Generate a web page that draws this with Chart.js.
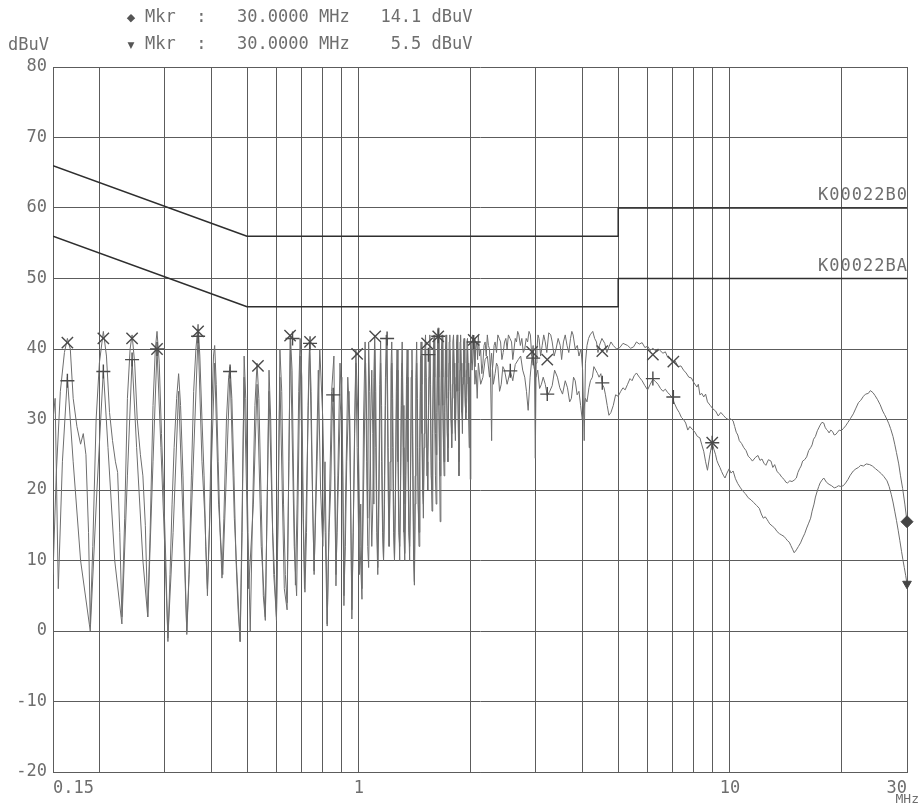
<!DOCTYPE html>
<html><head><meta charset="utf-8">
<script src="https://cdn.jsdelivr.net/npm/chart.js@4.4.0/dist/chart.umd.min.js"></script>
<style>html,body{margin:0;padding:0;background:#fff}canvas{display:block}</style>
</head><body>
<canvas id="c" width="921" height="807"></canvas>
<script>
// ---- data (frequency in MHz, level in dBuV) ----
const peakTrace = [[0.150,8],[0.153,22],[0.157,34],[0.161,39.5],[0.164,41.5],[0.167,40],[0.170,33],[0.174,29],[0.178,26.5],[0.181,28],[0.184,25],[0.187,14],[0.189,1],[0.192,12],[0.196,30],[0.200,38],[0.205,42.5],[0.209,39],[0.213,31],[0.217,27],[0.221,24],[0.224,22.5],[0.227,14],[0.230,2],[0.234,16],[0.238,33],[0.242,40],[0.245,42],[0.249,38],[0.253,30],[0.258,25],[0.262,22],[0.266,15],[0.270,2],[0.274,14],[0.279,32],[0.283,40],[0.286,42.5],[0.290,38],[0.294,28],[0.298,20],[0.302,10],[0.306,-1.5],[0.310,8],[0.314,18],[0.318,26],[0.323,33],[0.327,36.5],[0.331,32],[0.336,22],[0.340,10],[0.344,-0.5],[0.349,8],[0.354,22],[0.359,34],[0.364,40],[0.369,43.5],[0.373,39],[0.378,30],[0.383,22],[0.387,12],[0.391,6],[0.396,15],[0.401,30],[0.406,39],[0.409,40.5],[0.413,35],[0.418,24],[0.423,14],[0.428,7.5],[0.433,16],[0.440,30],[0.446,36],[0.450,37.5],[0.455,33],[0.461,22],[0.467,10],[0.473,3],[0.479,-1.5],[0.485,14],[0.491,39],[0.496,33],[0.503,14],[0.510,0],[0.517,16],[0.525,32],[0.532,38],[0.538,33],[0.546,18],[0.553,5],[0.560,1.5],[0.567,20],[0.573,37],[0.579,30],[0.586,14],[0.593,8],[0.600,1.5],[0.607,18],[0.613,40],[0.620,34],[0.627,18],[0.634,8],[0.641,4],[0.648,24],[0.654,42],[0.661,37],[0.668,20],[0.675,6.5],[0.682,18],[0.689,34],[0.695,41.5],[0.702,36],[0.709,16],[0.716,5.5],[0.723,14],[0.730,32],[0.737,41],[0.744,34],[0.751,18],[0.758,8.5],[0.772,24],[0.785,40],[0.800,30],[0.812,14],[0.822,0.7],[0.832,16],[0.845,34],[0.857,39],[0.868,6.4],[0.878,22],[0.890,38],[0.902,30],[0.912,3.6],[0.922,20],[0.934,36],[0.946,30],[0.958,1.7],[0.970,20],[0.982,40],[0.995,30],[1.008,12],[1.020,4.5],[1.030,30],[1.040,41],[1.050,30],[1.057,16],[1.063,41],[1.070,34],[1.077,20],[1.084,12],[1.091,18],[1.098,36],[1.104,42],[1.111,34],[1.118,18],[1.125,9],[1.132,20],[1.139,35],[1.145,41],[1.152,32],[1.159,16],[1.166,10],[1.173,22],[1.180,36],[1.186,42],[1.193,35],[1.200,20],[1.207,12],[1.214,24],[1.221,37],[1.227,41],[1.234,33],[1.241,18],[1.248,10],[1.255,20],[1.262,34],[1.268,40],[1.275,30],[1.282,16],[1.289,10],[1.296,22],[1.303,36],[1.309,41],[1.316,32],[1.323,18],[1.330,11],[1.337,22],[1.344,35],[1.350,40],[1.357,30],[1.364,15],[1.371,10],[1.378,22],[1.384,36],[1.391,40],[1.398,28],[1.405,13],[1.412,7],[1.419,22],[1.425,36],[1.432,41],[1.439,33],[1.446,18],[1.453,12],[1.460,26],[1.466,38],[1.472,41],[1.479,35],[1.486,22],[1.493,16],[1.500,28],[1.507,40],[1.513,42],[1.520,36],[1.527,24],[1.534,20],[1.541,32],[1.548,40],[1.554,42],[1.561,35],[1.568,22],[1.575,17],[1.582,30],[1.589,40],[1.595,42],[1.602,36],[1.609,28],[1.616,25],[1.623,31],[1.630,40],[1.636,43],[1.643,36],[1.650,24],[1.657,15.5],[1.664,30],[1.670,40],[1.677,42],[1.684,36],[1.691,26],[1.698,22],[1.705,32],[1.712,40],[1.718,42],[1.725,36],[1.732,28],[1.739,24],[1.746,34],[1.752,41],[1.759,42],[1.766,37],[1.773,30],[1.780,26],[1.787,35],[1.793,41],[1.800,42],[1.807,38],[1.814,31],[1.821,27],[1.828,36],[1.834,41],[1.841,42],[1.848,38],[1.855,30],[1.862,22],[1.869,34],[1.875,41],[1.881,42],[1.888,38],[1.895,32],[1.902,28],[1.909,36],[1.916,41],[1.922,41.5],[1.929,38],[1.936,33],[1.943,30],[1.950,37],[1.956,41],[1.963,41.5],[1.970,38],[1.977,30],[1.984,26],[1.991,36],[1.997,21.5],[2.004,41],[2.015,38],[2.025,42],[2.035,40],[2.045,41.5],[2.055,37.5],[2.065,40],[2.08,41],[2.09,38.5],[2.10,42],[2.115,39],[2.13,40],[2.145,36.5],[2.16,38],[2.175,40.5],[2.19,41],[2.205,39],[2.22,42],[2.235,40.5],[2.25,40],[2.265,36],[2.28,27],[2.29,37],[2.30,38],[2.315,40.5],[2.33,41],[2.35,39.5],[2.37,42],[2.39,41.5],[2.41,41],[2.43,38.5],[2.45,39.5],[2.47,41],[2.49,41.5],[2.51,40],[2.53,42],[2.555,41.5],[2.58,41],[2.60,38.5],[2.62,40],[2.64,41.5],[2.66,41],[2.68,42.5],[2.70,42],[2.725,40.5],[2.75,41.5],[2.775,39.5],[2.80,40],[2.825,41.5],[2.85,41],[2.875,42.5],[2.90,42],[2.925,39],[2.95,40.5],[2.975,37],[2.99,24.5],[3.005,38],[3.02,40],[3.04,42],[3.06,41.5],[3.09,39],[3.12,40.5],[3.15,42],[3.18,41],[3.21,39.5],[3.25,42.3],[3.29,42],[3.32,41],[3.36,39],[3.40,40],[3.445,41.5],[3.49,40.5],[3.52,38.5],[3.56,41],[3.60,42],[3.64,40.5],[3.68,39.5],[3.72,41.5],[3.75,42.5],[3.78,42],[3.83,40],[3.88,40.5],[3.92,39],[3.97,40],[4.01,37],[4.05,27],[4.08,38],[4.12,40.5],[4.16,41.5],[4.20,42],[4.27,42.5],[4.32,41.5],[4.37,41],[4.41,39.5],[4.45,40.5],[4.52,41.5],[4.60,40.8],[4.66,39.5],[4.72,40.3],[4.78,41],[4.85,40.5],[4.95,40],[5.05,40.2],[5.15,40.8],[5.3,40.5],[5.4,40.1],[5.5,40.3],[5.6,41],[5.7,40.7],[5.8,40.9],[5.9,40.2],[6.0,40.4],[6.1,39.8],[6.2,40.1],[6.35,39.6],[6.45,39.9],[6.6,39.4],[6.7,39.6],[6.8,38.8],[6.9,38.6],[7.0,38.1],[7.12,38.3],[7.25,37.5],[7.38,37.6],[7.5,37],[7.62,36.6],[7.75,36],[7.87,35.9],[8.0,35.2],[8.15,34.6],[8.22,35],[8.3,33.5],[8.4,33.7],[8.5,33.2],[8.6,33.6],[8.7,32.5],[8.85,32],[9.0,31.5],[9.15,31.2],[9.3,30.5],[9.45,31],[9.6,30.6],[9.75,30.2],[9.9,30],[10.05,30.1],[10.2,29.8],[10.3,29],[10.4,28.2],[10.5,27.8],[10.6,27],[10.75,26.6],[10.9,26],[11.05,25.6],[11.2,24.8],[11.35,24.5],[11.5,24.1],[11.7,24.6],[11.9,24.9],[12.05,24.2],[12.2,24.4],[12.35,23.8],[12.5,23.5],[12.7,24.3],[12.9,24.1],[13.05,23.2],[13.2,23.6],[13.4,22.6],[13.6,22.3],[13.8,21.8],[14.0,21.5],[14.15,21.1],[14.3,21],[14.5,21.3],[14.7,21.2],[14.9,21.4],[15.1,21.7],[15.25,22.5],[15.4,23],[15.55,23.4],[15.7,24.1],[15.9,24.3],[16.1,24.7],[16.3,25.6],[16.5,26],[16.65,26.4],[16.8,27.2],[17.0,27.6],[17.2,28.4],[17.35,28.8],[17.5,29.2],[17.7,29.6],[17.9,29.5],[18.05,28.9],[18.2,28.6],[18.35,28.4],[18.5,28.1],[18.7,28.5],[18.9,28.3],[19.1,27.8],[19.3,27.9],[19.5,28.2],[19.7,28.5],[19.95,28.4],[20.2,28.7],[20.5,29.1],[20.8,29.6],[21.1,30.1],[21.5,30.8],[21.8,31.5],[22.2,32.4],[22.5,32.7],[22.9,33.3],[23.2,33.6],[23.6,33.7],[23.9,34.1],[24.3,33.8],[24.6,33.4],[25.0,32.8],[25.4,32.1],[25.8,31.2],[26.1,30.7],[26.5,30],[26.8,29.4],[27.1,28.7],[27.5,27.6],[27.8,26.5],[28.1,25.3],[28.5,23.7],[28.8,22.1],[29.2,20.2],[29.6,18],[30.0,15.5]];

const avgTrace = [[0.150,30],[0.152,33],[0.155,6],[0.159,24],[0.164,36],[0.170,24],[0.178,10],[0.189,0],[0.197,20],[0.205,37],[0.211,26],[0.220,10],[0.230,1],[0.238,22],[0.245,38.6],[0.252,26],[0.262,10],[0.270,2],[0.279,24],[0.286,40],[0.293,26],[0.300,12],[0.306,-1],[0.316,14],[0.327,34],[0.336,16],[0.344,0],[0.356,20],[0.369,42],[0.378,24],[0.385,16],[0.391,5],[0.400,22],[0.409,38],[0.419,18],[0.430,8],[0.441,24],[0.450,37],[0.462,16],[0.479,-1.5],[0.491,36],[0.505,6],[0.520,18],[0.532,35],[0.546,12],[0.560,2],[0.573,34],[0.590,8],[0.600,2],[0.613,36],[0.630,6],[0.641,3],[0.654,41.5],[0.670,12],[0.680,5],[0.695,39],[0.714,6],[0.737,40.5],[0.758,8],[0.778,37],[0.789,20],[0.800,12],[0.811,24],[0.822,1],[0.831,14],[0.840,20],[0.847,30],[0.853,33.6],[0.860,22],[0.868,8],[0.874,14],[0.880,20],[0.890,30],[0.900,36],[0.906,22],[0.912,5],[0.920,12],[0.928,24],[0.941,34],[0.950,20],[0.958,3],[0.966,14],[0.974,28],[0.982,38],[0.990,26],[1.003,8],[1.012,18],[1.020,6],[1.030,20],[1.037,30],[1.043,38],[1.050,24],[1.057,12],[1.063,9],[1.070,20],[1.077,30],[1.084,37],[1.091,28],[1.098,18],[1.104,40],[1.111,26],[1.118,14],[1.125,8],[1.132,16],[1.139,30],[1.145,38],[1.152,24],[1.159,14],[1.166,10],[1.173,18],[1.180,32],[1.186,38],[1.192,41.5],[1.200,26],[1.207,12],[1.214,20],[1.221,30],[1.227,38],[1.234,26],[1.241,14],[1.248,10],[1.255,18],[1.262,30],[1.268,37],[1.275,24],[1.282,14],[1.289,12],[1.296,20],[1.303,32],[1.309,38],[1.316,26],[1.323,14],[1.330,10],[1.337,18],[1.344,30],[1.350,36],[1.357,24],[1.364,14],[1.371,12],[1.378,20],[1.384,30],[1.391,37],[1.398,22],[1.405,10],[1.412,6.5],[1.419,18],[1.425,30],[1.432,38],[1.439,26],[1.446,18],[1.453,14],[1.460,24],[1.466,34],[1.472,39],[1.479,28],[1.486,20],[1.493,18],[1.500,26],[1.507,36],[1.513,40],[1.520,30],[1.527,22],[1.534,22],[1.541,30],[1.548,36],[1.554,39.2],[1.561,30],[1.568,22],[1.575,20],[1.582,28],[1.589,36],[1.595,40],[1.602,30],[1.609,22],[1.616,18],[1.623,28],[1.630,38],[1.636,42],[1.643,32],[1.650,26],[1.657,22],[1.664,30],[1.670,37],[1.677,40],[1.684,32],[1.691,27],[1.698,24],[1.705,31],[1.712,37],[1.718,40],[1.725,33],[1.732,28],[1.739,26],[1.746,32],[1.752,38],[1.759,40],[1.766,34],[1.773,30],[1.780,28],[1.787,33],[1.793,38],[1.800,40],[1.807,35],[1.814,30],[1.821,28],[1.828,34],[1.834,38],[1.841,40],[1.848,34],[1.855,28],[1.862,24],[1.869,32],[1.875,37],[1.881,40],[1.888,35],[1.895,31],[1.902,30],[1.909,35],[1.916,38],[1.922,40],[1.929,36],[1.936,32],[1.943,31],[1.950,35],[1.956,38],[1.963,40],[1.970,35],[1.977,31],[1.984,30],[1.991,35],[2.004,40],[2.02,37],[2.04,41],[2.055,35],[2.07,37],[2.085,33],[2.10,38],[2.13,35],[2.16,36],[2.19,38.5],[2.22,39],[2.25,36],[2.28,39.4],[2.305,35],[2.33,36.5],[2.35,38],[2.37,37.5],[2.395,34],[2.42,35],[2.445,37.5],[2.47,37],[2.51,35],[2.56,36.9],[2.60,35.5],[2.64,37.8],[2.69,38.5],[2.73,39],[2.765,37],[2.80,36],[2.83,34],[2.86,31.3],[2.895,36],[2.93,39],[2.965,37.5],[3.00,36],[3.035,37],[3.07,34.4],[3.105,35],[3.14,36],[3.18,35],[3.22,33.4],[3.27,34],[3.32,34.8],[3.37,37],[3.43,36],[3.48,34.5],[3.54,33.6],[3.60,35.5],[3.65,34.5],[3.70,32.5],[3.74,33],[3.79,36],[3.83,35.5],[3.875,33.5],[3.92,34],[3.96,32],[4.00,30],[4.04,31.5],[4.08,33],[4.12,32.5],[4.17,34.5],[4.21,35.5],[4.26,36],[4.30,37.5],[4.35,37],[4.40,36.5],[4.44,36],[4.49,36.5],[4.53,35],[4.58,34.5],[4.62,33.5],[4.67,32],[4.72,30.6],[4.78,31],[4.85,32],[4.92,33.5],[5.0,33.3],[5.08,34],[5.15,34.5],[5.22,34.2],[5.3,35],[5.38,35.8],[5.45,35.5],[5.52,36.2],[5.6,36.6],[5.7,36],[5.8,35.5],[5.9,34.8],[6.0,34.2],[6.1,35],[6.2,35.7],[6.3,35.4],[6.4,35],[6.5,34.4],[6.6,34],[6.7,34.3],[6.8,33.8],[6.9,33.5],[7.0,33],[7.1,32.2],[7.2,31.5],[7.3,31],[7.4,30.3],[7.5,30],[7.6,29.5],[7.7,28.5],[7.8,29],[7.92,28.6],[8.05,28.2],[8.17,27.6],[8.3,27.4],[8.4,26.4],[8.5,25.5],[8.6,24],[8.7,22.8],[8.83,25],[8.96,26.7],[9.05,25.8],[9.15,25],[9.22,24.2],[9.3,23.7],[9.4,23.2],[9.5,22.6],[9.6,22.1],[9.7,21.7],[9.82,22.4],[9.95,23],[10.07,22.4],[10.2,22.7],[10.35,21.6],[10.5,20.9],[10.68,20.3],[10.85,19.8],[11.0,19.5],[11.2,18.9],[11.4,18.6],[11.6,18.2],[11.8,17.8],[12.0,17.4],[12.15,16.6],[12.3,16],[12.45,16.2],[12.6,15.8],[12.7,15.5],[12.8,15.2],[13.0,14.9],[13.2,14.6],[13.4,14.1],[13.6,13.8],[13.8,13.6],[14.0,13.4],[14.15,13.1],[14.3,12.8],[14.45,12.6],[14.6,12.1],[14.75,11.6],[14.9,11.1],[15.1,11.5],[15.3,12],[15.5,12.5],[15.7,13.2],[15.9,13.8],[16.1,14.6],[16.3,15.3],[16.5,16],[16.65,17],[16.85,18],[17.0,19],[17.2,19.9],[17.35,20.5],[17.5,21],[17.7,21.4],[17.9,21.7],[18.2,21.1],[18.5,20.8],[18.8,20.6],[19.1,20.3],[19.35,20.4],[19.6,20.6],[19.9,20.5],[20.2,20.6],[20.5,21],[20.8,21.5],[21.1,22.1],[21.5,22.7],[21.85,23],[22.2,23.2],[22.5,23.5],[22.9,23.4],[23.3,23.7],[23.8,23.6],[24.2,23.4],[24.7,23],[25.1,22.7],[25.6,22.3],[26.0,21.9],[26.5,21.3],[26.85,20.5],[27.2,19.4],[27.5,18.3],[27.8,17],[28.1,15.7],[28.4,14.3],[28.7,12.8],[29.0,11.3],[29.25,10.1],[29.5,9],[29.75,7.9],[30.0,6.7]];

const qpLimitFreq  = [0.15, 0.5, 5, 5, 30];
const qpLimitLevel = [66, 56, 56, 60, 60];
const avLimitFreq  = [0.15, 0.5, 5, 5, 30];
const avLimitLevel = [56, 46, 46, 50, 50];
const limitNames = ['K00022B0', 'K00022BA'];
const limitNameLevels = [60, 50];

const qpMarkers = [[0.164,40.9],[0.205,41.5],[0.245,41.5],[0.286,40],[0.369,42.5],[0.535,37.6],[0.653,41.9],[0.739,41],[0.99,39.3],[1.107,41.8],[1.528,40.8],[1.637,41.8],[2.04,41.3],[2.93,39.6],[3.22,38.5],[4.53,39.7],[6.2,39.2],[7.04,38.2],[8.96,26.7]];
const avMarkers = [[0.164,35.5],[0.205,36.8],[0.245,38.5],[0.286,40],[0.369,41.8],[0.45,36.8],[0.663,41.5],[0.739,40.8],[0.853,33.5],[1.192,41.5],[1.54,39.2],[1.637,41.8],[2.04,41],[2.56,36.9],[2.95,38.7],[3.22,33.6],[4.53,35.2],[6.2,35.8],[7.04,33.2],[8.96,26.7]];

const endMarkFreq = 30;
const headerSymbols = ['\u25C6', '\u25BC'];
const headerTexts = ['Mkr  :   30.0000 MHz   14.1 dBuV', 'Mkr  :   30.0000 MHz    5.5 dBuV'];

const xGridValues = [0.15,0.2,0.3,0.4,0.5,0.6,0.7,0.8,0.9,1,2,3,4,5,6,7,8,9,10,20,30];
const xLabelValues = [0.15, 1, 10, 30];
const xLabelTexts = ['0.15', '1', '10', '30'];
const yMin = -20, yMax = 80, yStep = 10;
const yUnit = 'dBuV', xUnit = 'MHz';

// ---- build chart ----
const toXY = arr => arr.map(p => ({x: p[0], y: p[1]}));
const zipXY = (xs, ys) => xs.map((v, i) => ({x: v, y: ys[i]}));
const MONO = '"DejaVu Sans Mono", "Liberation Mono", monospace';
const TXT = '#6e6e6e';
const GRID = '#5c5c5c';

const textPlugin = {
  id: 'texts',
  afterDraw(chart) {
    const {ctx, scales: {x, y}} = chart;
    ctx.save();
    ctx.fillStyle = TXT;
    ctx.textBaseline = 'middle';
    ctx.font = '17px ' + MONO;
    ctx.textAlign = 'left';
    headerTexts.forEach((t, i) => ctx.fillText(t, 145, 18 + i * 27));
    ctx.fillText(yUnit, 8, 46);
    ctx.fillStyle = '#555';
    ctx.font = '11px "DejaVu Sans"';
    ctx.textAlign = 'center';
    ctx.fillText(headerSymbols[0], 131, 18);
    ctx.font = '9px "DejaVu Sans"';
    ctx.fillText(headerSymbols[1], 131, 46);
    ctx.fillStyle = TXT;
    ctx.font = '17px ' + MONO;
    ctx.textAlign = 'right';
    try { ctx.letterSpacing = '1px'; } catch (e) {}
    limitNames.forEach((t, i) => ctx.fillText(t, x.right + 1, y.getPixelForValue(limitNameLevels[i]) - 12));
    try { ctx.letterSpacing = '0px'; } catch (e) {}
    ctx.font = '13px ' + MONO;
    ctx.fillText(xUnit, x.right + 12, 800);
    ctx.restore();
  }
};

const lineDs = (data, color, width) => ({
  data, borderColor: color, borderWidth: width, pointRadius: 0, fill: false,
  tension: 0, showLine: true
});

new Chart(document.getElementById('c'), {
  type: 'line',
  data: {
    datasets: [
      Object.assign(lineDs(zipXY(qpLimitFreq, qpLimitLevel), '#2e2e2e', 1.5), {order: 1}),
      Object.assign(lineDs(zipXY(avLimitFreq, avLimitLevel), '#2e2e2e', 1.5), {order: 1}),
      Object.assign(lineDs(toXY(peakTrace), '#6e6e6e', 1), {order: 3}),
      Object.assign(lineDs(toXY(avgTrace), '#6e6e6e', 1), {order: 2}),
      {data: toXY(qpMarkers), showLine: false, pointStyle: 'crossRot', pointRadius: 8,
       borderColor: '#4a4a4a', pointBorderWidth: 1.4, order: 0, clip: false},
      {data: toXY(avMarkers), showLine: false, pointStyle: 'cross', pointRadius: 7,
       borderColor: '#4a4a4a', pointBorderWidth: 1.4, order: 0, clip: false},
      {data: [{x: endMarkFreq, y: peakTrace[peakTrace.length - 1][1]}], showLine: false,
       pointStyle: 'rectRot', pointRadius: 6, backgroundColor: '#444', borderColor: '#444', order: 0, clip: false},
      {data: [{x: endMarkFreq, y: avgTrace[avgTrace.length - 1][1]}], showLine: false,
       pointStyle: 'triangle', pointRotation: 180, pointRadius: 5, backgroundColor: '#444', borderColor: '#444', order: 0, clip: false}
    ]
  },
  options: {
    responsive: false,
    animation: false,
    devicePixelRatio: 1,
    layout: {padding: {left: 0, right: 14, top: 67, bottom: 0}},
    plugins: {legend: {display: false}, tooltip: {enabled: false}, title: {display: false}},
    elements: {line: {borderJoinStyle: 'round'}},
    scales: {
      x: {
        type: 'logarithmic', min: 0.15, max: 30,
        afterBuildTicks: s => { s.ticks = xGridValues.map(v => ({value: v})); },
        afterFit: s => { s.height = 35; },
        grid: {color: GRID, lineWidth: 1, drawTicks: false},
        border: {color: GRID, width: 1},
        ticks: {
          autoSkip: false, maxRotation: 0, minRotation: 0, align: 'inner', padding: 6,
          color: TXT, font: {family: MONO, size: 17},
          callback: v => { const i = xLabelValues.findIndex(l => Math.abs(l - v) < 1e-9); return i >= 0 ? xLabelTexts[i] : ''; }
        }
      },
      y: {
        type: 'linear', min: yMin, max: yMax,
        afterFit: s => { s.width = 53; },
        grid: {color: GRID, lineWidth: 1, drawTicks: false},
        border: {color: GRID, width: 1},
        ticks: {stepSize: yStep, padding: 6, color: TXT, font: {family: MONO, size: 17}}
      }
    }
  },
  plugins: [textPlugin]
});
</script>
</body></html>
